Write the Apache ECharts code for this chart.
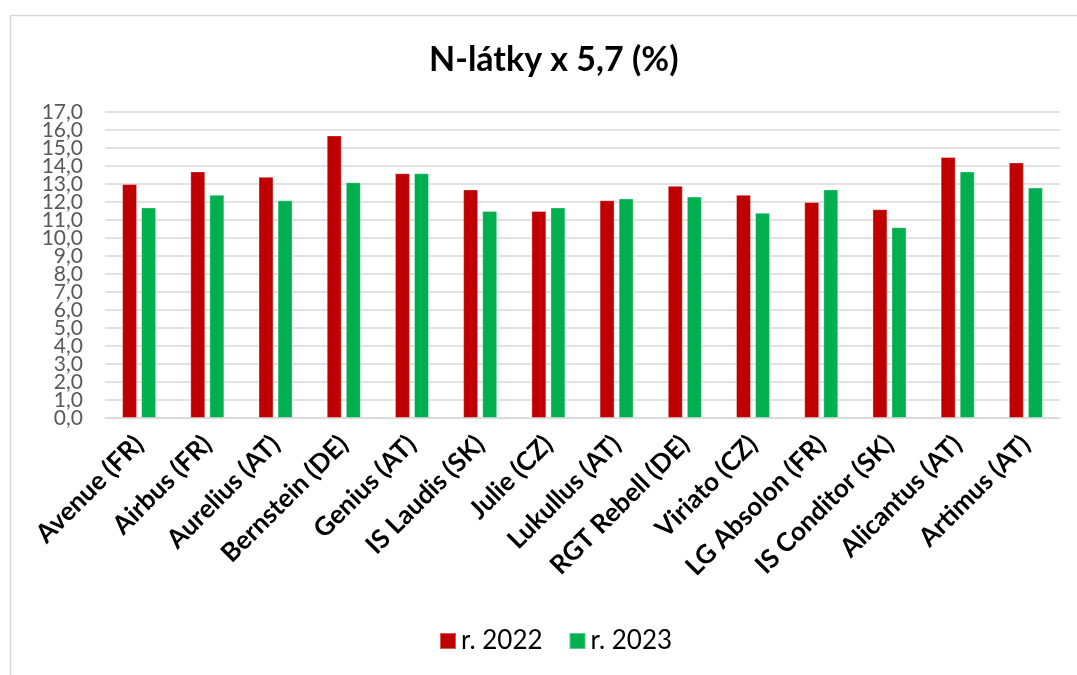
<!DOCTYPE html>
<html>
<head>
<meta charset="utf-8">
<script src="https://cdn.jsdelivr.net/npm/echarts@6/dist/echarts.min.js"></script>
<style>
  html, body { margin: 0; padding: 0; background: #fff; }
  #main { width: 1077px; height: 675px; }
</style>
</head>
<body>
<div id="main"></div>
<script>
// odrůdy
var odrudy = ['Avenue (FR)', 'Airbus (FR)', 'Aurelius (AT)', 'Bernstein (DE)', 'Genius (AT)',
  'IS Laudis (SK)', 'Julie (CZ)', 'Lukullus (AT)', 'RGT Rebell (DE)', 'Viriato (CZ)',
  'LG Absolon (FR)', 'IS Conditor (SK)', 'Alicantus (AT)', 'Artimus (AT)'];
var rok2022 = [13.0, 13.7, 13.4, 15.7, 13.6, 12.7, 11.5, 12.1, 12.9, 12.4, 12.0, 11.6, 14.5, 14.2];
var rok2023 = [11.7, 12.4, 12.1, 13.1, 13.6, 11.5, 11.7, 12.2, 12.3, 11.4, 12.7, 10.6, 13.7, 12.8];
var nazvySerii = ['r. 2022', 'r. 2023'];
// popisky osy y: sudé a liché zvlášť, aby se navzájem neschovávaly
var tickySude = [0, 2, 4, 6, 8, 10, 12, 14, 16];
var tickyLiche = [1, 3, 5, 7, 9, 11, 13, 15, 17];

var chart = echarts.init(document.getElementById('main'));

function osaY(ticky, mrizka) {
  return {
    type: 'value',
    position: 'left',
    min: 0, max: 17, interval: 1,
    axisLine: { show: false },
    axisTick: { show: false },
    splitLine: { show: mrizka, lineStyle: { color: '#D9D9D9', width: 1.5 } },
    axisLabel: {
      customValues: ticky,
      margin: 22,
      fontFamily: 'Lato',
      fontSize: 21,
      color: '#595959',
      formatter: function (v) { return v.toFixed(1).replace('.', ','); }
    }
  };
}

var option = {
  backgroundColor: '#fff',
  animation: false,
  graphic: [{
    type: 'rect',
    left: 8, top: 13,
    shape: { width: 1200, height: 800 },
    style: { fill: 'none', stroke: '#D9D9D9', lineWidth: 1.5 },
    silent: true
  }],
  title: {
    text: 'N-látky x 5,7 (%)',
    left: 424,
    top: 38,
    textStyle: { fontFamily: 'Lato', fontWeight: 'bold', fontSize: 34, color: '#000' }
  },
  legend: {
    data: nazvySerii,
    bottom: 16,
    left: 434,
    itemWidth: 16,
    itemHeight: 16,
    itemGap: 26,
    icon: 'rect',
    textStyle: { fontFamily: 'Lato', fontSize: 26, color: '#000' }
  },
  grid: { left: 105, right: 17, top: 112, bottom: 257 },
  xAxis: {
    type: 'category',
    data: odrudy,
    axisLine: { lineStyle: { color: '#D9D9D9', width: 1.5 } },
    axisTick: { show: false },
    axisLabel: {
      rotate: 45,
      interval: 0,
      margin: 22,
      fontFamily: 'Lato',
      fontWeight: 'bold',
      fontSize: 26,
      color: '#000'
    }
  },
  yAxis: [osaY(tickySude, true), osaY(tickyLiche, false)],
  series: [{
    name: nazvySerii[0],
    type: 'bar',
    data: rok2022,
    barWidth: 15,
    barGap: '27%',
    itemStyle: { color: '#C00000', borderColor: 'rgba(255,255,255,0.35)', borderWidth: 1 }
  }, {
    name: nazvySerii[1],
    type: 'bar',
    data: rok2023,
    barWidth: 15,
    barGap: '27%',
    itemStyle: { color: '#00B050', borderColor: 'rgba(255,255,255,0.35)', borderWidth: 1 }
  }]
};

chart.setOption(option);
</script>
</body>
</html>
